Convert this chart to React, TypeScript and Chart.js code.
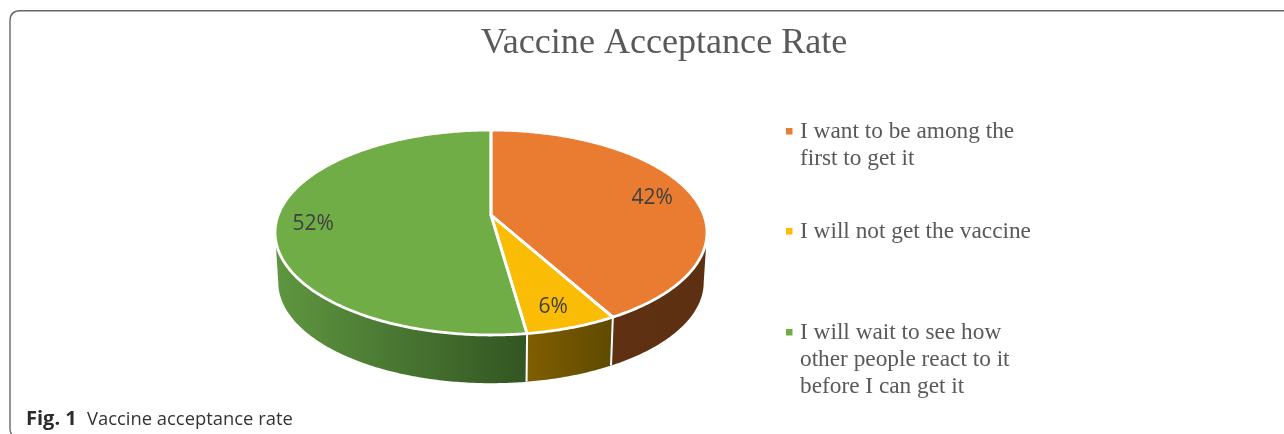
import React, { useEffect, useRef } from "react";
import { Chart, registerables } from "chart.js";

Chart.register(...registerables);

const categories = [
  ["I want to be among the", "first to get it"],
  ["I will not get the vaccine"],
  ["I will wait to see how", "other people react to it", "before I can get it"],
];
const values = [41.9, 5.85, 52.25];
const percentLabels = ["42%", "6%", "52%"];
const topColors = ["#E97C30", "#FBBC05", "#70AD47"];
const wallStops = [
  ["#5F3112", "#5C3011"],
  ["#805E00", "#5F4A00"],
  ["#5F9640", "#325522"],
];
const titleText = "Vaccine Acceptance Rate";
const captionBold = "Fig. 1";
const captionText = "Vaccine acceptance rate";

const apexX = 491;
const apexY = 215;
const discHalfWidth = 212.8;
const discDepth = 99.5;
const tilt = 0.1707;
const wallHeight = 50;
const wallScale = 0.985;
const visibleFrom = (-Math.PI / 2) + (99.8 * Math.PI) / 180;
const visibleTo = (-Math.PI / 2) + (260.2 * Math.PI) / 180;

function project(angle: number, r: number, scale = 1, dy = 0) {
  const u = Math.cos(angle) * r;
  const v = Math.sin(angle) * r;
  const w = 1 - tilt * v;
  return {
    x: apexX + (scale * discHalfWidth * u) / w,
    y: apexY + dy + (scale * discDepth * v) / w,
  };
}

function arcPoints(a0: number, a1: number, scale = 1, dy = 0) {
  const pts: { x: number; y: number }[] = [];
  const n = Math.max(2, Math.ceil(Math.abs(a1 - a0) / 0.01));
  for (let i = 0; i <= n; i++) {
    pts.push(project(a0 + ((a1 - a0) * i) / n, 1, scale, dy));
  }
  return pts;
}

const perspectivePie = {
  id: "perspectivePie",
  beforeDatasetsDraw(chart: any) {
    const ctx = chart.ctx as CanvasRenderingContext2D;
    const arcs = chart.getDatasetMeta(0).data as any[];
    ctx.save();
    // side wall
    arcs.forEach((arc, i) => {
      const a0 = Math.max(arc.startAngle, visibleFrom);
      const a1 = Math.min(arc.endAngle, visibleTo);
      if (a1 <= a0) return;
      const top = arcPoints(a0, a1);
      const bottom = arcPoints(a0, a1, wallScale, wallHeight);
      const minX = Math.min(...top.map((p) => p.x), ...bottom.map((p) => p.x));
      const maxX = Math.max(...top.map((p) => p.x), ...bottom.map((p) => p.x));
      const g = ctx.createLinearGradient(minX, 0, maxX, 0);
      g.addColorStop(0, wallStops[i][0]);
      g.addColorStop(1, wallStops[i][1]);
      ctx.beginPath();
      top.forEach((p, k) => (k ? ctx.lineTo(p.x, p.y) : ctx.moveTo(p.x, p.y)));
      bottom.reverse().forEach((p) => ctx.lineTo(p.x, p.y));
      ctx.closePath();
      ctx.fillStyle = g;
      ctx.fill();
    });
    // separators on the wall
    ctx.strokeStyle = "#FFFFFF";
    ctx.lineWidth = 2;
    arcs.forEach((arc) => {
      if (arc.endAngle > visibleTo) return;
      const a = project(arc.endAngle, 1);
      const b = project(arc.endAngle, 1, wallScale, wallHeight);
      ctx.beginPath();
      ctx.moveTo(a.x, a.y);
      ctx.lineTo(b.x, b.y);
      ctx.stroke();
    });
    // top face
    ctx.lineJoin = "round";
    ctx.lineWidth = 2.8;
    arcs.forEach((arc, i) => {
      ctx.beginPath();
      ctx.moveTo(apexX, apexY);
      arcPoints(arc.startAngle, arc.endAngle).forEach((p) => ctx.lineTo(p.x, p.y));
      ctx.closePath();
      ctx.fillStyle = topColors[i];
      ctx.fill();
    });
    arcs.forEach((arc) => {
      ctx.beginPath();
      ctx.moveTo(apexX, apexY);
      arcPoints(arc.startAngle, arc.endAngle).forEach((p) => ctx.lineTo(p.x, p.y));
      ctx.closePath();
      ctx.stroke();
    });
    // percent labels
    ctx.fillStyle = "#404040";
    ctx.font = '21px "Open Sans"';
    ctx.textAlign = "center";
    ctx.textBaseline = "middle";
    arcs.forEach((arc, i) => {
      const p = project((arc.startAngle + arc.endAngle) / 2, 0.82);
      ctx.fillText(percentLabels[i], p.x - 2, p.y + 3);
    });
    ctx.restore();
    return false;
  },
};

const legendBaselines = [[138, 165], [238], [339, 366, 393]];

const frameAndText = {
  id: "frameAndText",
  beforeDraw(chart: any) {
    const ctx = chart.ctx as CanvasRenderingContext2D;
    ctx.save();
    ctx.fillStyle = "#FFFFFF";
    ctx.fillRect(0, 0, 1284, 434);
    ctx.strokeStyle = "#666666";
    ctx.lineWidth = 1.4;
    ctx.beginPath();
    ctx.moveTo(1284, 10.7);
    ctx.lineTo(20, 10.7);
    ctx.quadraticCurveTo(10, 10.7, 10, 21);
    ctx.lineTo(10, 428);
    ctx.quadraticCurveTo(10, 433, 12, 434);
    ctx.stroke();
    ctx.restore();
  },
  afterDraw(chart: any) {
    const ctx = chart.ctx as CanvasRenderingContext2D;
    ctx.save();
    ctx.textBaseline = "alphabetic";
    ctx.textAlign = "left";
    categories.forEach((lines, i) => {
      const base = legendBaselines[i];
      ctx.fillStyle = topColors[i];
      ctx.fillRect(786, base[0] - 10, 6.5, 6.5);
      ctx.fillStyle = "#595959";
      ctx.font = '23.3px "Liberation Serif"';
      lines.forEach((t, k) => ctx.fillText(t, 800, base[k]));
    });
    ctx.fillStyle = "#2B2B2B";
    ctx.font = 'bold 20px "Open Sans"';
    ctx.fillText(captionBold, 26, 425);
    ctx.fillStyle = "#333333";
    ctx.font = '18.4px "Open Sans"';
    ctx.fillText(captionText, 87, 425);
    ctx.restore();
  },
};

export default function App() {
  const ref = useRef<HTMLCanvasElement>(null);
  useEffect(() => {
    if (!ref.current) return;
    const chart = new Chart(ref.current, {
      type: "pie",
      data: {
        labels: categories.map((c) => c.join(" ")),
        datasets: [{ data: values, backgroundColor: topColors }],
      },
      options: {
        responsive: false,
        animation: false,
        layout: { padding: { left: 44 } },
        plugins: {
          legend: { display: false },
          tooltip: { enabled: false },
          title: {
            display: true,
            text: titleText,
            color: "#595959",
            font: { family: '"Liberation Serif"', size: 36.1, weight: "normal", lineHeight: 1.2 },
            padding: { top: 22, bottom: 0 },
          },
        },
      },
      plugins: [perspectivePie, frameAndText],
    } as any);
    return () => chart.destroy();
  }, []);
  return (
    <canvas
      ref={ref}
      width={1284}
      height={434}
      style={{ position: "fixed", left: 0, top: 0, display: "block" }}
    />
  );
}
